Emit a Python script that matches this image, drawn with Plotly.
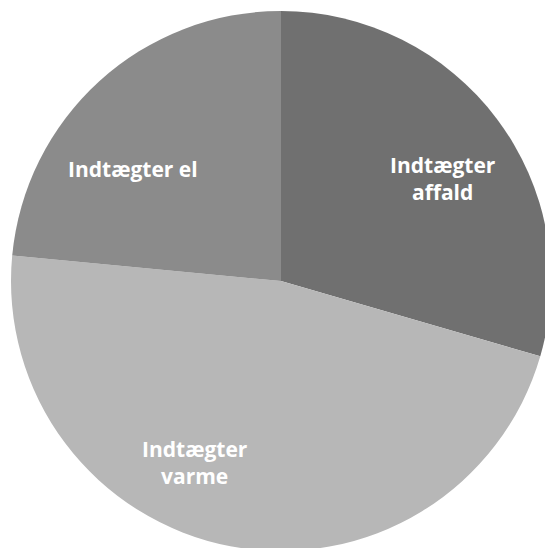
import plotly.graph_objects as go

labels = ["Indtægter affald", "Indtægter varme", "Indtægter el"]
text_labels = ["Indtægter<br>affald", "Indtægter<br>varme", "Indtægter el"]
values = [29.5, 47.0, 23.5]
colors = ["#707070", "#b7b7b7", "#8b8b8b"]

# label anchor points (paper coords), placed like the original "best fit" labels
label_pos = [(0.800, 0.689), (0.340, 0.163), (0.226, 0.7065)]

fig = go.Figure(
    go.Pie(
        labels=labels,
        values=values,
        textinfo="none",
        sort=False,
        direction="clockwise",
        rotation=0,
        marker=dict(colors=colors, line=dict(width=0)),
        hovertemplate="<b>%{label}</b><br>%{value}<extra></extra>",
    )
)

for txt, (x, y) in zip(text_labels, label_pos):
    fig.add_annotation(
        text=txt,
        x=x, y=y,
        xref="paper", yref="paper",
        xanchor="center", yanchor="middle",
        showarrow=False,
        font=dict(family="Open Sans", size=21, color="white", weight="bold"),
    )

fig.update_layout(
    width=562,
    height=562,
    margin=dict(l=11, r=11, t=11, b=11),
    paper_bgcolor="white",
    plot_bgcolor="white",
    showlegend=False,
)

fig.write_html(
    "out.html",
    config={"displayModeBar": False},
    post_script="document.body.style.margin='0';document.body.style.overflow='hidden';",
)
